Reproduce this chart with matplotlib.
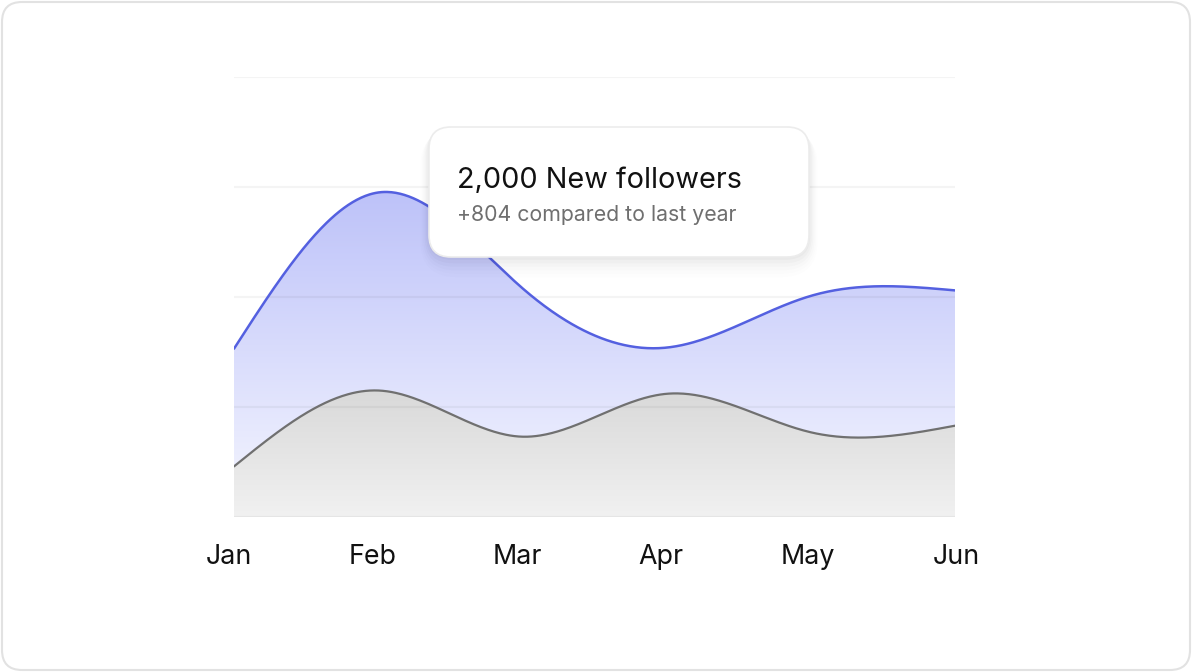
import numpy as np
import matplotlib
matplotlib.use("Agg")
import matplotlib.pyplot as plt
import matplotlib.transforms as mtransforms
from matplotlib.patches import FancyBboxPatch, Polygon
from matplotlib.colors import LinearSegmentedColormap

plt.rcParams['font.family'] = ['Inter', 'DejaVu Sans']

months = ["Jan", "Feb", "Mar", "Apr", "May", "Jun"]
this_year = [153, 295, 208, 154, 201, 206]
last_year = [46, 115, 73, 112, 77, 83]
y_ticks = [0, 100, 200, 300, 400]
tooltip_title = "2,000 New followers"
tooltip_sub = "+804 compared to last year"

W, H = 1192, 672
fig = plt.figure(figsize=(W / 100, H / 100), dpi=100)
fig.patch.set_facecolor("white")

# card border
card = FancyBboxPatch((2, 2), W - 4, H - 4, boxstyle="round,pad=0,rounding_size=20",
                      transform=None, facecolor="none", edgecolor="#e2e2e2", linewidth=1.5,
                      zorder=-5)
fig.patches.append(card)

left, right, top, bottom = 234, 955, 77, 517
ax = fig.add_axes([left / W, (H - bottom) / H, (right - left) / W, (bottom - top) / H])
ax.set_zorder(1)
ax.set_xlim(0, len(months) - 1)
ax.set_ylim(0, 400)
ax.set_facecolor("none")
for s in ax.spines.values():
    s.set_visible(False)


def natural_spline(x, y, n=500):
    x = np.asarray(x, float)
    y = np.asarray(y, float)
    m = len(x)
    h = np.diff(x)
    A = np.zeros((m, m))
    b = np.zeros(m)
    A[0, 0] = 1
    A[-1, -1] = 1
    for i in range(1, m - 1):
        A[i, i - 1] = h[i - 1]
        A[i, i] = 2 * (h[i - 1] + h[i])
        A[i, i + 1] = h[i]
        b[i] = 3 * ((y[i + 1] - y[i]) / h[i] - (y[i] - y[i - 1]) / h[i - 1])
    c = np.linalg.solve(A, b)
    xs = np.linspace(x[0], x[-1], n)
    ys = np.empty_like(xs)
    for k, xv in enumerate(xs):
        i = min(np.searchsorted(x, xv, side="right") - 1, m - 2)
        dx = xv - x[i]
        bi = (y[i + 1] - y[i]) / h[i] - h[i] * (2 * c[i] + c[i + 1]) / 3
        di = (c[i + 1] - c[i]) / (3 * h[i])
        ys[k] = y[i] + bi * dx + c[i] * dx ** 2 + di * dx ** 3
    return xs, ys


xpos = np.arange(len(months))


def gradient_fill(xs, ys, c_top, c_bot, y_top, zorder):
    poly = Polygon(np.column_stack([np.r_[xs, xs[-1], xs[0]], np.r_[ys, 0, 0]]),
                   closed=True, facecolor="none", edgecolor="none", transform=ax.transData)
    ax.add_patch(poly)
    cmap = LinearSegmentedColormap.from_list("g", [c_bot, c_top])
    grad = np.linspace(0, 1, 256).reshape(-1, 1)
    im = ax.imshow(grad, cmap=cmap, aspect="auto", origin="lower",
                   extent=[xs[0], xs[-1], 0, y_top], zorder=zorder, interpolation="bilinear")
    im.set_clip_path(poly)


bx, by = natural_spline(xpos, this_year)
gx, gy = natural_spline(xpos, last_year)

gradient_fill(bx, by, "#bdc2f9", "#f6f7ff", max(by), 1)
gradient_fill(gx, gy, "#d9d9d9", "#f1f1f1", max(gy), 2)
ax.plot(bx, by, color="#5460e0", linewidth=1.8, zorder=4, solid_capstyle="round")
ax.plot(gx, gy, color="#707070", linewidth=1.6, zorder=4, solid_capstyle="round")

ax.set_yticks(y_ticks)
ax.yaxis.grid(True, color="#000000", alpha=0.045, linewidth=1.6, zorder=3)
ax.set_axisbelow(False)
ax.tick_params(axis="y", left=False, labelleft=False)
ax.set_xticks(xpos)
ax.set_xticklabels(months, fontsize=19.3, color="#111111")
ax.tick_params(axis="x", length=0, pad=19.5)
label_shift_px = [-5, -6, -5, -6, -3, 1]
for lbl, dx in zip(ax.get_xticklabels(), label_shift_px):
    lbl.set_transform(lbl.get_transform() + mtransforms.ScaledTranslation(dx / 100, 0, fig.dpi_scale_trans))

ax.set_ylim(0, 400)
ax.set_xlim(0, len(months) - 1)

# tooltip with shadow
bx0, by0, bw, bh = 429, 127, 380, 130
for i, a in enumerate([0.025, 0.02, 0.015, 0.011, 0.008, 0.006]):
    off = 2 + i * 2.5
    sh = FancyBboxPatch((bx0 - off * 0.6, H - (by0 + bh) - off * 1.4), bw + off * 1.2, bh + off * 1.2,
                        boxstyle="round,pad=0,rounding_size=%f" % (22 + off),
                        transform=None, facecolor="black", edgecolor="none", alpha=a, zorder=10)
    fig.patches.append(sh)
tip = FancyBboxPatch((bx0, H - (by0 + bh)), bw, bh, boxstyle="round,pad=0,rounding_size=22",
                     transform=None, facecolor="white", edgecolor="#ececec", linewidth=1.2, zorder=11)
fig.patches.append(tip)
fig.text(457 / W, 1 - 188 / H, tooltip_title, fontsize=20.8, color="#111111",
         ha="left", va="baseline", zorder=12)
fig.text(457 / W, 1 - 221 / H, tooltip_sub, fontsize=15.3, color="#6f6f6f",
         ha="left", va="baseline", zorder=12)

fig.savefig("out.png", dpi=100, facecolor="white")
